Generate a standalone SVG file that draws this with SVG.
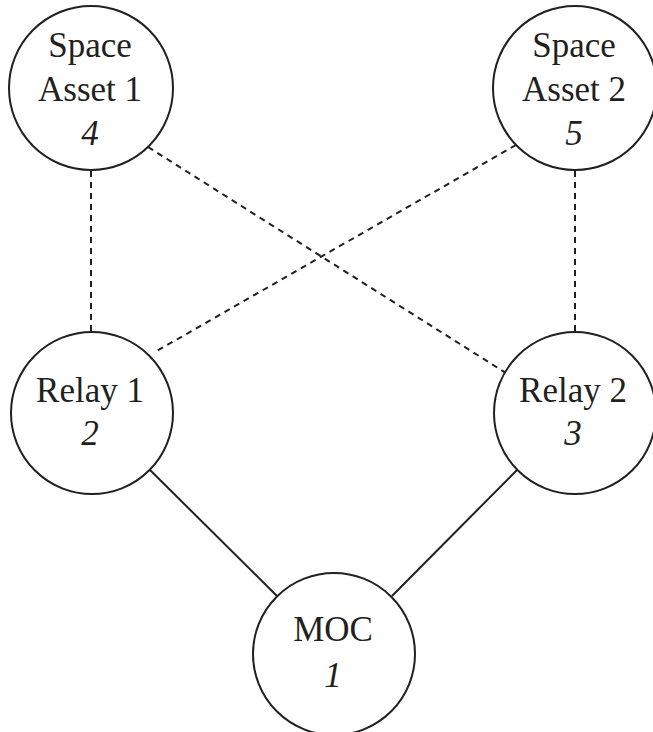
<svg xmlns="http://www.w3.org/2000/svg" width="653" height="732" viewBox="0 0 653 732">
  <style>
    .node circle { fill: #ffffff; stroke: #231f20; stroke-width: 2; }
    .label { font-family: "Liberation Serif", "Times New Roman", serif; font-size: 35px; fill: #231f20; text-anchor: middle; }
    .num { font-style: italic; }
    .link { stroke: #231f20; stroke-width: 2; fill: none; }
    .dashed { stroke-dasharray: 6 5; }
  </style>
  <rect width="653" height="732" fill="#ffffff"/>
  <g id="connectors">
    <line class="link dashed" x1="91" y1="171" x2="91" y2="333"/>
    <line class="link dashed" x1="575" y1="171" x2="575" y2="333"/>
    <line class="link dashed" x1="148" y1="147" x2="517" y2="380"/>
    <line class="link dashed" x1="516" y1="145" x2="155" y2="352"/>
    <line class="link" x1="150" y1="470" x2="277" y2="596"/>
    <line class="link" x1="517" y1="470" x2="392" y2="596"/>
  </g>
  <g id="space-asset-1" class="node">
    <circle cx="91" cy="88" r="82"/>
    <text class="label" x="90" y="57">Space</text>
    <text class="label" x="90" y="101">Asset 1</text>
    <text class="label num" x="90" y="145">4</text>
  </g>
  <g id="space-asset-2" class="node">
    <circle cx="575" cy="88" r="82"/>
    <text class="label" x="574" y="57">Space</text>
    <text class="label" x="574" y="101">Asset 2</text>
    <text class="label num" x="574" y="145">5</text>
  </g>
  <g id="relay-1" class="node">
    <circle cx="92" cy="413" r="81"/>
    <text class="label" x="90" y="402">Relay 1</text>
    <text class="label num" x="90" y="445">2</text>
  </g>
  <g id="relay-2" class="node">
    <circle cx="575" cy="413" r="81"/>
    <text class="label" x="573" y="402">Relay 2</text>
    <text class="label num" x="573" y="445">3</text>
  </g>
  <g id="moc" class="node">
    <circle cx="334" cy="654" r="81"/>
    <text class="label" x="333" y="641">MOC</text>
    <text class="label num" x="333" y="687">1</text>
  </g>
</svg>
